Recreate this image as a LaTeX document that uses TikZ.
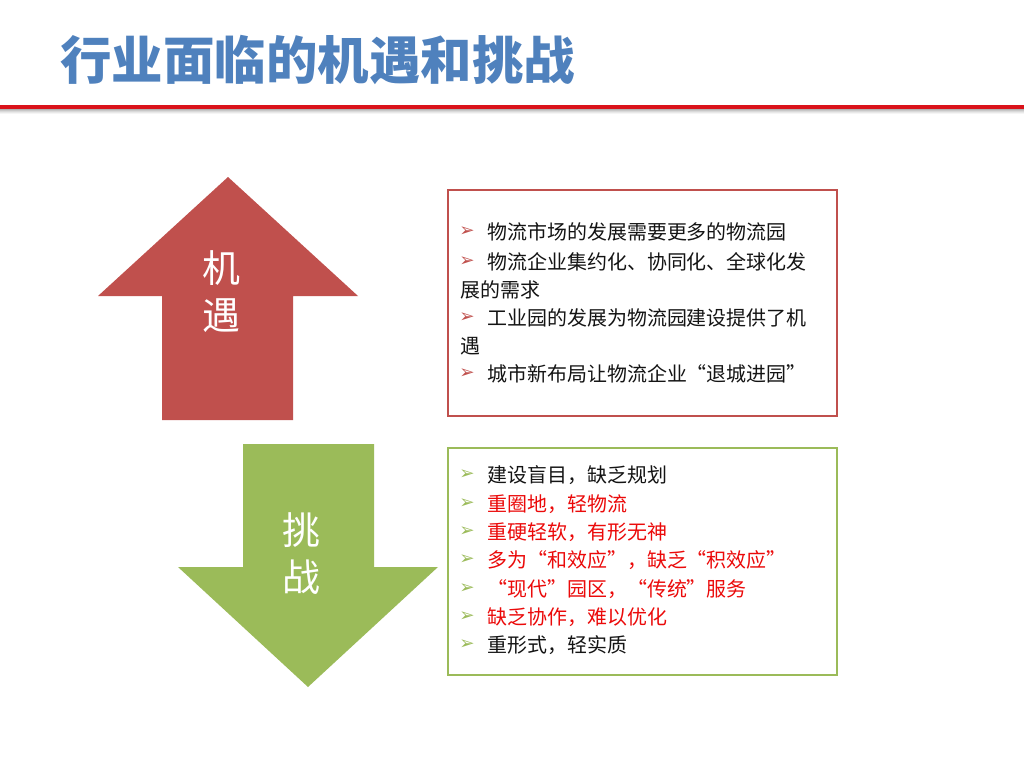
\documentclass[tikz,border=0pt]{standalone}
\usepackage{fontspec}
\setmainfont{Noto Sans CJK SC}
\newfontfamily\symfont{DejaVu Sans}
\usepackage{tikz}
\usetikzlibrary{positioning}
\definecolor{titleBlue}{RGB}{79,129,189}
\definecolor{chanceRed}{RGB}{192,80,77}
\definecolor{riskGreen}{RGB}{155,187,89}
\definecolor{ruleRed}{RGB}{218,18,26}
\definecolor{alertRed}{RGB}{235,10,10}
\definecolor{textDark}{RGB}{20,20,20}

\begin{document}
\begin{tikzpicture}[
    x=0.025cm, y=-0.025cm,
    panel/.style={
        rectangle,
        line width=1.6pt,
        fill=white
    },
    arrowtext/.style={
        align=center,
        text=white,
        font=\fontsize{27pt}{33.5pt}\selectfont
    },
    item/.style={
        anchor=west,
        inner sep=0pt,
        text=textDark,
        font=\fontsize{14.2pt}{20pt}\selectfont
    },
    hot/.style={
        item,
        text=alertRed
    },
    bullet/.style={
        inner sep=0pt,
        font=\symfont\fontsize{13pt}{15pt}\selectfont
    }
]
\useasboundingbox (0,0) rectangle (1024,768);

% Title and rule
\node[anchor=west, inner sep=0pt, text=titleBlue, font=\fontsize{36.6pt}{40pt}\selectfont\bfseries] (title) at (60,60) {行业面临的机遇和挑战};
\foreach \k/\o in {1/0.30,2/0.22,3/0.15,4/0.09,5/0.04}
    \draw[black, opacity=\o, line width=0.7pt] (0,108+\k) -- (1024,108+\k);
\draw[ruleRed, line width=2.4pt] (0,107) -- (1024,107);

% Up arrow - opportunities
\fill[chanceRed] (162,420) -- (162,296) -- (98,296) -- (228,177) -- (358,296) -- (293,296) -- (293,420) -- cycle;
\node[arrowtext] (chance) at (221,292) {机\\遇};

% Down arrow - challenges
\fill[riskGreen] (243,444) -- (374,444) -- (374,567) -- (438,567) -- (308,687) -- (178,567) -- (243,567) -- cycle;
\node[arrowtext] (risk) at (301,554) {挑\\战};

% Opportunity panel
\draw[panel, draw=chanceRed] (448,190) rectangle (837,416);
\node[bullet, text=chanceRed] (b1) at (467,232) {➢};
\node[item] (o1) at (487,232) {物流市场的发展需要更多的物流园};
\node[bullet, text=chanceRed] (b2) at (467,262) {➢};
\node[item] (o2) at (487,262) {物流企业集约化、协同化、全球化发};
\node[item] (o2b) at (460,290) {展的需求};
\node[bullet, text=chanceRed] (b3) at (467,318) {➢};
\node[item] (o3) at (487,318) {工业园的发展为物流园建设提供了机};
\node[item] (o3b) at (460,346) {遇};
\node[bullet, text=chanceRed] (b4) at (467,374) {➢};
\node[item] (o4) at (487,374) {城市新布局让物流企业“退城进园”};

% Challenge panel
\draw[panel, draw=riskGreen] (448,448) rectangle (837,675);
\node[bullet, text=riskGreen] (c1b) at (467,475) {➢};
\node[item] (c1) at (487,475) {建设盲目，缺乏规划};
\node[bullet, text=riskGreen] (c2b) at (467,504) {➢};
\node[hot] (c2) at (487,504) {重圈地，轻物流};
\node[bullet, text=riskGreen] (c3b) at (467,532) {➢};
\node[hot] (c3) at (487,532) {重硬轻软，有形无神};
\node[bullet, text=riskGreen] (c4b) at (467,560) {➢};
\node[hot] (c4) at (487,560) {多为“和效应”，缺乏“积效应”};
\node[bullet, text=riskGreen] (c5b) at (467,589) {➢};
\node[hot] (c5) at (487,589) {“现代”园区，“传统”服务};
\node[bullet, text=riskGreen] (c6b) at (467,617) {➢};
\node[hot] (c6) at (487,617) {缺乏协作，难以优化};
\node[bullet, text=riskGreen] (c7b) at (467,645) {➢};
\node[item] (c7) at (487,645) {重形式，轻实质};

\end{tikzpicture}
\end{document}
